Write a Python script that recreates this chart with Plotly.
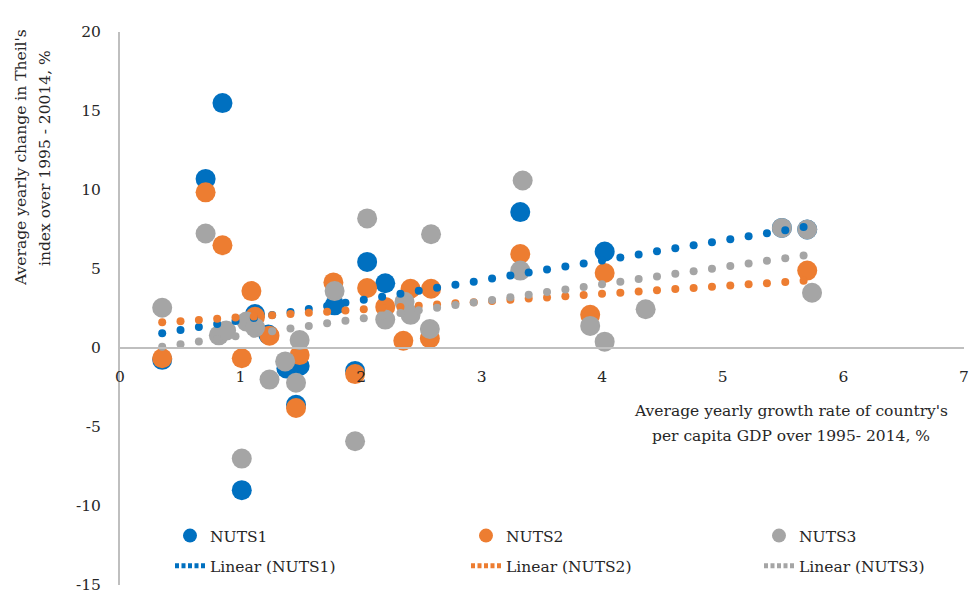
import numpy as np
import plotly.graph_objects as go

# ---- data ----
nuts1_x = [0.35, 0.71, 0.85, 1.01, 1.12, 1.23, 1.38, 1.49, 1.46, 1.78, 1.95, 2.05, 2.20, 3.32, 4.02, 5.49, 5.70]
nuts1_y = [-0.75, 10.7, 15.5, -9.0, 2.15, 0.85, -1.29, -1.14, -3.6, 2.70, -1.45, 5.45, 4.10, 8.60, 6.10, 7.6, 7.5]

nuts2_x = [0.35, 0.71, 0.85, 1.01, 1.09, 1.12, 1.24, 1.49, 1.46, 1.77, 1.95, 2.05, 2.20, 2.35, 2.41, 2.58, 2.57, 3.32, 3.90, 4.02, 5.70]
nuts2_y = [-0.65, 9.85, 6.50, -0.65, 3.60, 1.98, 0.78, -0.45, -3.8, 4.15, -1.65, 3.80, 2.60, 0.46, 3.75, 3.75, 0.60, 5.95, 2.10, 4.75, 4.90]

nuts3_x = [0.35, 0.71, 0.82, 0.88, 1.01, 1.05, 1.12, 1.24, 1.37, 1.46, 1.49, 1.78, 1.95, 2.05, 2.20, 2.36, 2.41, 2.57, 2.58, 3.32, 3.34, 3.90, 4.02, 4.36, 5.49, 5.70, 5.74]
nuts3_y = [2.55, 7.25, 0.80, 1.10, -7.0, 1.67, 1.30, -2.0, -0.85, -2.2, 0.50, 3.60, -5.9, 8.20, 1.80, 2.93, 2.10, 1.20, 7.20, 4.90, 10.6, 1.40, 0.40, 2.45, 7.60, 7.50, 3.50]

series_names = ["NUTS1", "NUTS2", "NUTS3"]
trend_names = ["Linear (NUTS1)", "Linear (NUTS2)", "Linear (NUTS3)"]
x_ticks = [0, 1, 2, 3, 4, 5, 6, 7]
y_ticks = [-15, -10, -5, 0, 5, 10, 15, 20]

colors = ["#0070C0", "#ED7D31", "#A5A5A5"]
FONT = "DejaVu Serif"
FS = 15.5
TXT = "#262626"
AX = "#BFBFBF"

W, H = 969, 592
PL, PR, PT, PB = 120, 964, 32, 585          # plot area in pixels

data = [(nuts1_x, nuts1_y), (nuts2_x, nuts2_y), (nuts3_x, nuts3_y)]

fig = go.Figure()

# scatter markers
for (xs, ys), name, c in zip(data, series_names, colors):
    fig.add_trace(go.Scatter(x=xs, y=ys, mode="markers", name=name, showlegend=False,
                             marker=dict(size=20, color=c, line=dict(width=0))))

# linear trendlines (OLS fit), drawn as round dots
for (xs, ys), name, c in zip(data, trend_names, colors):
    slope, intercept = np.polyfit(xs, ys, 1)
    tx = np.arange(min(xs), max(xs) + 1e-9, 0.152)
    ty = slope * tx + intercept
    fig.add_trace(go.Scatter(x=tx, y=ty, mode="markers", name=name, showlegend=False,
                             hoverinfo="skip", marker=dict(size=8, color=c, line=dict(width=0))))

# legend entries: one vertical legend per column
legend_ids = ["legend", "legend2", "legend3"]
for i, (name, tname, c) in enumerate(zip(series_names, trend_names, colors)):
    fig.add_trace(go.Scatter(x=[None], y=[None], mode="markers", name=name,
                             legend=legend_ids[i], legendgroup=f"m{i}",
                             marker=dict(size=14, color=c, line=dict(width=0))))
    fig.add_trace(go.Scatter(x=[None], y=[None], mode="lines", name=tname,
                             legend=legend_ids[i], legendgroup=f"t{i}",
                             line=dict(color=c, width=5, dash="4px,2.5px")))

legend_text_x = [211, 507, 800]   # px of legend text starts
legend_common = dict(orientation="v", xref="container", yref="container",
                     xanchor="left", yanchor="middle", tracegroupgap=7,
                     bgcolor="rgba(0,0,0,0)", font=dict(family=FONT, size=FS, color=TXT))
legend_layout = {lid: dict(x=(tx - 41) / W, y=1 - 551 / H, **legend_common)
                 for lid, tx in zip(legend_ids, legend_text_x)}

plot_w = PR - PL
plot_h = PB - PT

def px_x(p):
    return (p - PL) / plot_w

def px_y(p):
    return 1 - (p - PT) / plot_h

fig.update_layout(
    width=W, height=H,
    margin=dict(l=PL, r=W - PR, t=PT, b=H - PB, autoexpand=False),
    paper_bgcolor="white", plot_bgcolor="white",
    font=dict(family=FONT, size=FS, color=TXT),
    xaxis=dict(range=[0, 7.0005], tickvals=x_ticks, ticktext=[str(v) for v in x_ticks],
               showgrid=False, zeroline=False, showline=True, linecolor=AX, linewidth=2,
               anchor="free", position=15 / 35, automargin=False, ticklabeloverflow="allow",
               ticks="outside", ticklen=14, tickcolor="rgba(0,0,0,0)",
               tickfont=dict(family=FONT, size=FS, color=TXT)),
    yaxis=dict(range=[-15.0005, 20], tickvals=y_ticks, ticktext=[str(v) for v in y_ticks],
               showgrid=False, zeroline=False, showline=True, linecolor=AX, linewidth=2,
               automargin=False, ticklabeloverflow="allow",
               ticks="outside", ticklen=14, tickcolor="rgba(0,0,0,0)",
               tickfont=dict(family=FONT, size=FS, color=TXT)),
    annotations=[
        dict(text="Average yearly change in Theil's", xref="paper", yref="paper",
             x=px_x(21), y=px_y(158), xanchor="center", yanchor="middle", textangle=-90,
             showarrow=False, font=dict(family=FONT, size=FS, color=TXT)),
        dict(text="index over 1995 - 20014, %", xref="paper", yref="paper",
             x=px_x(45), y=px_y(158), xanchor="center", yanchor="middle", textangle=-90,
             showarrow=False, font=dict(family=FONT, size=FS, color=TXT)),
        dict(text="Average yearly growth rate of country's", xref="paper", yref="paper",
             x=px_x(791), y=px_y(411), xanchor="center", yanchor="middle",
             showarrow=False, font=dict(family=FONT, size=FS, color=TXT)),
        dict(text="per capita GDP over 1995- 2014, %", xref="paper", yref="paper",
             x=px_x(791), y=px_y(436), xanchor="center", yanchor="middle",
             showarrow=False, font=dict(family=FONT, size=FS, color=TXT)),
    ],
    **legend_layout,
)

# remove the default page margin so the figure sits at the window's top-left corner
fig.write_html("out.html", config={"displayModeBar": False},
               post_script="document.body.style.margin='0';document.body.style.overflow='hidden';")
